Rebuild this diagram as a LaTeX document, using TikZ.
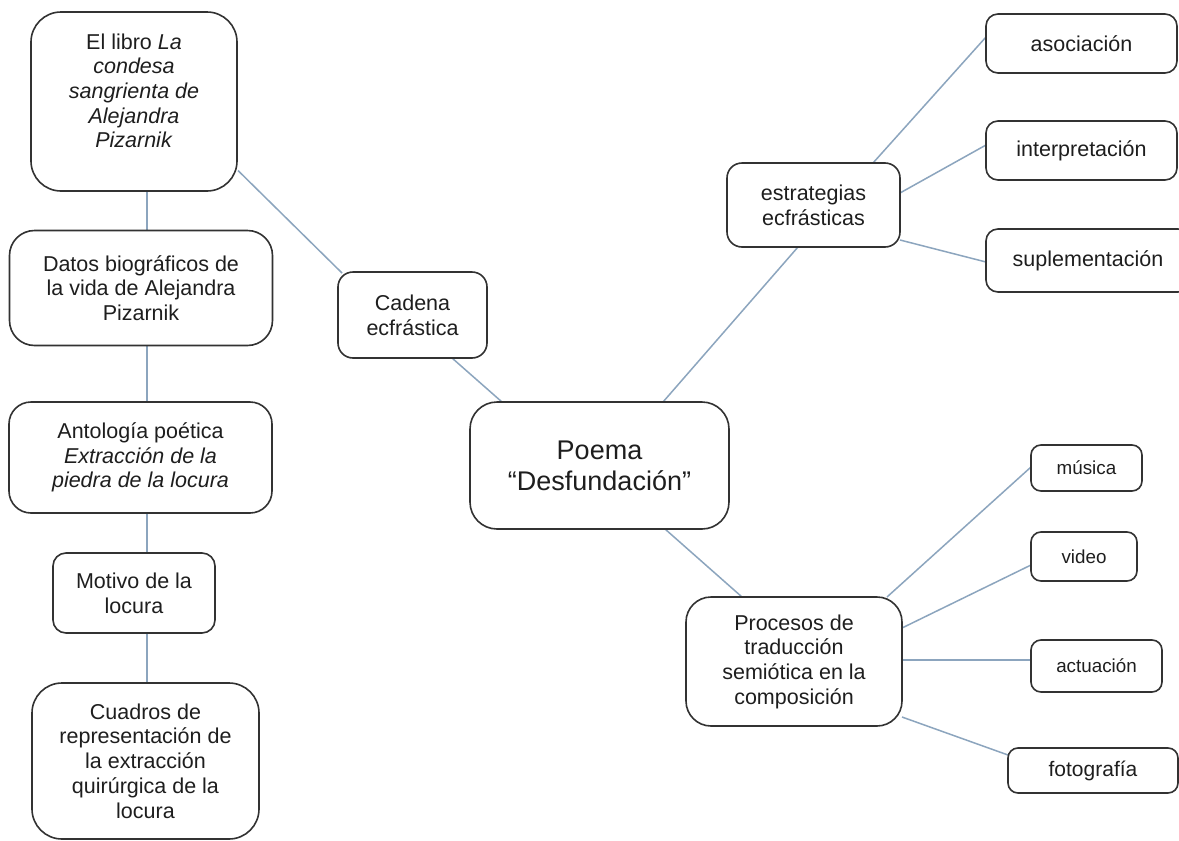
\documentclass[tikz,border=0pt]{standalone}
\usepackage{fontspec}
\setmainfont{Liberation Sans}
\usetikzlibrary{calc}
\pgfdeclarelayer{bg}
\pgfsetlayers{bg,main}
\definecolor{bordc}{RGB}{50,50,50}
\definecolor{linkc}{RGB}{140,165,190}
\definecolor{txtc}{RGB}{30,30,30}
\newcommand{\mfont}{\fontsize{21.5}{24.7}\selectfont}
\newcommand{\sfontx}{\fontsize{18.8}{22}\selectfont}
\newcommand{\bfontx}{\fontsize{27}{31}\selectfont}
\tikzset{
  bx/.style={draw=bordc, line width=1.6pt, fill=white, rounded corners=#1,
    inner sep=0pt, outer sep=0pt, align=center, text=txtc, font=\mfont},
  link/.style={draw=linkc, line width=1.5pt},
}
\begin{document}
\begin{tikzpicture}[x=1pt,y=-1pt]
\useasboundingbox (0,0) rectangle (1179,841);
% left column
\node[bx=30pt, minimum width=206pt, minimum height=179pt] (b1) at (134,101.5)
  {\raisebox{0pt}[\height][\dimexpr\depth+16pt\relax]{\begin{tabular}{@{}c@{}}El libro \textit{La}\\ \textit{condesa}\\ \textit{sangrienta de}\\ \textit{Alejandra}\\ \textit{Pizarnik}\end{tabular}}};
\node[bx=25pt, minimum width=263pt, minimum height=115pt] (b2) at (141,288)
  {Datos biográficos de\\ la vida de Alejandra\\ Pizarnik};
\node[bx=22pt, minimum width=263pt, minimum height=111pt] (b3) at (140.5,457.5)
  {Antología poética\\ \textit{Extracción de la}\\ \textit{piedra de la locura}};
\node[bx=13pt, minimum width=162pt, minimum height=80pt] (mot) at (134,593)
  {Motivo de la\\ locura};
\node[bx=30pt, minimum width=227pt, minimum height=156pt] (cua) at (145.5,761)
  {Cuadros de\\ representación de\\ la extracción\\ quirúrgica de la\\ locura};
% center
\node[bx=15pt, minimum width=149pt, minimum height=86pt] (cad) at (412.5,315)
  {Cadena\\ ecfrástica};
\node[bx=27pt, minimum width=259pt, minimum height=127pt, font=\bfontx] (poe) at (599.5,465.5)
  {Poema\\ “Desfundación”};
% right top
\node[bx=15pt, minimum width=173pt, minimum height=84pt] (est) at (813.5,205)
  {estrategias\\ ecfrásticas};
\node[bx=12pt, minimum width=191pt, minimum height=59pt] (aso) at (1081.5,43.5) {asociación};
\node[bx=12pt, minimum width=191pt, minimum height=59pt] (int) at (1081.5,150.5) {interpretación};
\node[bx=12pt, minimum width=204pt, minimum height=63pt] (sup) at (1088,260.5) {suplementación};
% right bottom
\node[bx=25pt, minimum width=216pt, minimum height=129pt] (pro) at (794,661.5)
  {Procesos de\\ traducción\\ semiótica en la\\ composición};
\node[bx=10pt, minimum width=111pt, minimum height=46pt, font=\sfontx] (mus) at (1086.5,468) {música};
\node[bx=10pt, minimum width=106pt, minimum height=49pt, font=\sfontx] (vid) at (1084,556.5) {video};
\node[bx=10pt, minimum width=131pt, minimum height=52pt, font=\sfontx] (act) at (1096.5,666) {actuación};
\node[bx=10pt, minimum width=170pt, minimum height=45pt, font=\fontsize{21}{24}\selectfont] (fot) at (1093,770.5) {fotografía};
\coordinate (vl) at (147,0);
\begin{pgfonlayer}{bg}
\fill[white] (0,0) rectangle (1179,841);
\draw[link] (b1.south -| vl) -- (b2.north -| vl);
\draw[link] (b2.south -| vl) -- (b3.north -| vl);
\draw[link] (b3.south -| vl) -- (mot.north -| vl);
\draw[link] (mot.south -| vl) -- (cua.north -| vl);
\draw[link] ($(b1.east)+(1,69)$) -- ($(cad.north west)+(4,1)$);
\draw[link] ($(cad.south)+(39.5,0)$) -- ($(poe.north)+(-97.5,0)$);
\draw[link] ($(poe.north)+(63.5,0)$) -- ($(est.south)+(-15.5,0)$);
\draw[link] ($(est.north)+(59.5,0)$) -- ($(aso.west)+(0,-6.5)$);
\draw[link] ($(est.east)+(0,-12)$) -- ($(int.west)+(0,-5.5)$);
\draw[link] ($(est.east)+(0,35)$) -- ($(sup.west)+(0,1.5)$);
\draw[link] ($(poe.south)+(65.5,0)$) -- ($(pro.north)+(-52,0)$);
\draw[link] ($(pro.north)+(93,0)$) -- ($(mus.west)+(0,-1)$);
\draw[link] ($(pro.east)+(0,-33.5)$) -- ($(vid.west)+(0,8.5)$);
\draw[link] ($(pro.east)+(0,-1.5)$) -- ($(act.west)+(0,-6)$);
\draw[link] ($(pro.east)+(0,55.5)$) -- ($(fot.west)+(0,-15.5)$);
\end{pgfonlayer}
\end{tikzpicture}
\end{document}
